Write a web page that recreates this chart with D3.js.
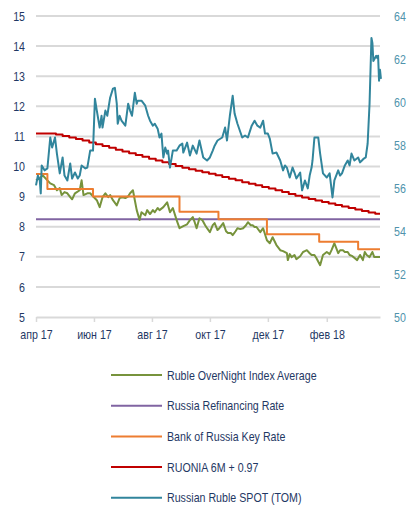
<!DOCTYPE html>
<html>
<head>
<meta charset="utf-8">
<script src="https://cdn.jsdelivr.net/npm/d3@7"></script>
<style>
  body { margin: 0; background: #fff; }
  text { font-family: "Liberation Sans Narrow", "Arial Narrow", "Liberation Sans", sans-serif; }
</style>
</head>
<body>
<div id="chart"></div>
<script>
// axis ticks
var xTickDates = ["2017-04-01", "2017-06-01", "2017-08-01", "2017-10-01", "2017-12-01", "2018-02-01"];
var xTickLabels = ["апр 17", "июн 17", "авг 17", "окт 17", "дек 17", "фев 18"];
var leftTicks = [5, 6, 7, 8, 9, 10, 11, 12, 13, 14, 15];
var rightTicks = [50, 52, 54, 56, 58, 60, 62, 64];

var seriesNames = ["Ruble OverNight Index Average", "Russia Refinancing Rate", "Bank of Russia Key Rate",
                   "RUONIA 6M + 0.97", "Russian Ruble SPOT (TOM)"];

// Ruble OverNight Index Average (left axis)
var ruonia = [
  ["2017-04-01", 9.54], ["2017-04-05", 9.61], ["2017-04-08", 9.71], ["2017-04-13", 9.54], ["2017-04-16", 9.44],
  ["2017-04-20", 9.38], ["2017-04-23", 9.21], ["2017-04-26", 9.28], ["2017-04-28", 9.05], ["2017-05-01", 9.15],
  ["2017-05-04", 9.11], ["2017-05-07", 8.98], ["2017-05-09", 8.91], ["2017-05-12", 9.11], ["2017-05-14", 9.15],
  ["2017-05-17", 9.21], ["2017-05-19", 9.54], ["2017-05-21", 9.05], ["2017-05-25", 9.11], ["2017-05-28", 9.11],
  ["2017-05-31", 9.01], ["2017-06-04", 8.88], ["2017-06-07", 8.65], ["2017-06-10", 8.98], ["2017-06-13", 9.11],
  ["2017-06-16", 8.98], ["2017-06-18", 9.05], ["2017-06-21", 8.88], ["2017-06-25", 8.71], ["2017-06-28", 8.95],
  ["2017-07-01", 8.98], ["2017-07-04", 8.95], ["2017-07-07", 9.01], ["2017-07-09", 9.11], ["2017-07-12", 9.21],
  ["2017-07-14", 8.88], ["2017-07-16", 8.55], ["2017-07-19", 8.22], ["2017-07-21", 8.48], ["2017-07-25", 8.38],
  ["2017-07-27", 8.55], ["2017-07-30", 8.42], ["2017-08-02", 8.55], ["2017-08-04", 8.48], ["2017-08-07", 8.62],
  ["2017-08-09", 8.55], ["2017-08-13", 8.65], ["2017-08-17", 8.81], ["2017-08-20", 8.48], ["2017-08-23", 8.62],
  ["2017-08-27", 8.22], ["2017-08-30", 7.95], ["2017-09-03", 8.02], ["2017-09-07", 8.08], ["2017-09-10", 8.22],
  ["2017-09-13", 8.32], ["2017-09-15", 8.15], ["2017-09-17", 7.95], ["2017-09-20", 8.28], ["2017-09-23", 8.22],
  ["2017-09-26", 8.05], ["2017-09-28", 7.95], ["2017-10-01", 7.82], ["2017-10-04", 8.05], ["2017-10-06", 8.12],
  ["2017-10-09", 7.89], ["2017-10-11", 7.95], ["2017-10-15", 8.12], ["2017-10-18", 7.85], ["2017-10-20", 7.79],
  ["2017-10-23", 7.79], ["2017-10-25", 7.72], ["2017-10-28", 7.85], ["2017-10-30", 7.95], ["2017-11-02", 7.92],
  ["2017-11-05", 7.95], ["2017-11-08", 8.05], ["2017-11-10", 8.15], ["2017-11-13", 8.05], ["2017-11-15", 8.05],
  ["2017-11-17", 7.99], ["2017-11-19", 7.99], ["2017-11-23", 7.82], ["2017-11-26", 7.95], ["2017-11-30", 7.55],
  ["2017-12-03", 7.45], ["2017-12-06", 7.65], ["2017-12-10", 7.39], ["2017-12-14", 7.22], ["2017-12-17", 7.19],
  ["2017-12-21", 7.12], ["2017-12-22", 6.89], ["2017-12-24", 7.09], ["2017-12-26", 6.99], ["2017-12-29", 7.06],
  ["2017-12-31", 6.92], ["2018-01-04", 7.02], ["2018-01-07", 7.16], ["2018-01-09", 7.19], ["2018-01-11", 7.22],
  ["2018-01-14", 7.12], ["2018-01-16", 7.06], ["2018-01-19", 7.06], ["2018-01-21", 6.96], ["2018-01-25", 6.72],
  ["2018-01-28", 7.06], ["2018-02-01", 7.16], ["2018-02-04", 7.09], ["2018-02-06", 7.22], ["2018-02-09", 7.45],
  ["2018-02-13", 7.12], ["2018-02-15", 7.22], ["2018-02-18", 7.22], ["2018-02-20", 7.16], ["2018-02-23", 7.16],
  ["2018-02-25", 7.06], ["2018-02-28", 7.02], ["2018-03-05", 6.89], ["2018-03-08", 7.06], ["2018-03-11", 6.89],
  ["2018-03-13", 7.16], ["2018-03-15", 7.06], ["2018-03-18", 6.99], ["2018-03-21", 7.16], ["2018-03-23", 6.99],
  ["2018-03-26", 6.99], ["2018-03-29", 6.99]
];

// Russia Refinancing Rate (left axis)
var refiRate = [["2017-04-01", 8.25], ["2018-03-29", 8.25]];

// Bank of Russia Key Rate (left axis), step changes
var keyRate = [
  ["2017-04-01", 9.75], ["2017-04-13", 9.25], ["2017-05-31", 9.0], ["2017-08-30", 8.5],
  ["2017-10-10", 8.25], ["2017-11-30", 7.75], ["2018-01-24", 7.5], ["2018-03-06", 7.25], ["2018-03-29", 7.25]
];

// RUONIA 6M + 0.97 (left axis), weekly from 2017-04-01
var ruonia6mStart = "2017-04-01";
var ruonia6m = [11.10, 11.10, 11.10, 11.06, 11.01, 10.96, 10.91, 10.86, 10.80, 10.74,
                10.68, 10.62, 10.56, 10.50, 10.44, 10.38, 10.32, 10.26, 10.20, 10.14,
                10.08, 10.02, 9.96, 9.91, 9.86, 9.81, 9.76, 9.71, 9.65, 9.59,
                9.54, 9.48, 9.43, 9.38, 9.32, 9.27, 9.21, 9.15, 9.09, 9.03,
                8.97, 8.92, 8.87, 8.82, 8.77, 8.72, 8.67, 8.62, 8.57, 8.52,
                8.47, 8.43];

// Russian Ruble SPOT (TOM) (right axis)
var rubSpot = [
  ["2017-04-01", 56.12], ["2017-04-03", 56.58], ["2017-04-05", 56.35], ["2017-04-06", 55.75], ["2017-04-07", 57.05],
  ["2017-04-10", 56.82], ["2017-04-13", 56.91], ["2017-04-16", 58.35], ["2017-04-18", 57.88], ["2017-04-21", 58.35],
  ["2017-04-23", 57.60], ["2017-04-26", 56.68], ["2017-04-29", 57.42], ["2017-05-01", 56.58], ["2017-05-04", 56.35],
  ["2017-05-07", 57.14], ["2017-05-09", 56.44], ["2017-05-12", 56.72], ["2017-05-15", 56.44], ["2017-05-17", 56.58],
  ["2017-05-19", 57.05], ["2017-05-23", 56.91], ["2017-05-25", 56.95], ["2017-05-28", 57.74], ["2017-05-31", 57.74],
  ["2017-06-02", 60.15], ["2017-06-04", 59.60], ["2017-06-07", 58.81], ["2017-06-09", 59.36], ["2017-06-10", 58.81],
  ["2017-06-13", 59.60], ["2017-06-15", 59.36], ["2017-06-18", 60.20], ["2017-06-21", 60.62], ["2017-06-23", 60.66],
  ["2017-06-25", 59.92], ["2017-06-26", 58.99], ["2017-06-28", 59.36], ["2017-06-30", 59.13], ["2017-07-04", 58.90],
  ["2017-07-07", 59.92], ["2017-07-09", 59.60], ["2017-07-11", 59.36], ["2017-07-14", 60.43], ["2017-07-16", 59.92],
  ["2017-07-17", 60.06], ["2017-07-21", 60.06], ["2017-07-25", 59.83], ["2017-07-28", 59.36], ["2017-07-30", 59.13],
  ["2017-08-02", 58.90], ["2017-08-04", 58.99], ["2017-08-07", 58.76], ["2017-08-09", 58.35], ["2017-08-11", 58.53],
  ["2017-08-13", 57.42], ["2017-08-15", 57.88], ["2017-08-17", 57.60], ["2017-08-18", 57.74], ["2017-08-20", 56.95],
  ["2017-08-23", 57.74], ["2017-08-27", 57.74], ["2017-08-30", 57.97], ["2017-09-02", 58.07], ["2017-09-03", 57.65],
  ["2017-09-07", 58.11], ["2017-09-10", 57.51], ["2017-09-13", 57.97], ["2017-09-17", 57.60], ["2017-09-20", 58.21],
  ["2017-09-24", 57.42], ["2017-09-28", 57.28], ["2017-10-01", 57.42], ["2017-10-04", 57.74], ["2017-10-06", 57.97],
  ["2017-10-09", 58.21], ["2017-10-14", 58.35], ["2017-10-17", 58.81], ["2017-10-19", 58.21], ["2017-10-22", 59.36],
  ["2017-10-25", 60.29], ["2017-10-27", 59.46], ["2017-10-30", 58.99], ["2017-11-04", 58.35], ["2017-11-07", 58.44],
  ["2017-11-10", 58.35], ["2017-11-14", 58.90], ["2017-11-17", 59.13], ["2017-11-20", 58.90], ["2017-11-23", 58.81],
  ["2017-11-26", 59.13], ["2017-11-28", 58.53], ["2017-12-01", 58.53], ["2017-12-03", 58.30], ["2017-12-06", 57.60],
  ["2017-12-10", 57.65], ["2017-12-14", 57.28], ["2017-12-17", 56.82], ["2017-12-19", 57.05], ["2017-12-21", 56.95],
  ["2017-12-24", 56.49], ["2017-12-27", 56.95], ["2017-12-29", 56.72], ["2017-12-31", 56.44], ["2018-01-04", 56.72],
  ["2018-01-06", 55.89], ["2018-01-09", 56.35], ["2018-01-12", 55.98], ["2018-01-14", 56.58], ["2018-01-16", 56.95],
  ["2018-01-17", 57.28], ["2018-01-19", 58.35], ["2018-01-23", 58.35], ["2018-01-25", 57.60], ["2018-01-28", 56.68],
  ["2018-02-01", 56.49], ["2018-02-04", 56.68], ["2018-02-07", 55.56], ["2018-02-09", 56.35], ["2018-02-13", 56.82],
  ["2018-02-15", 56.58], ["2018-02-17", 56.68], ["2018-02-20", 57.05], ["2018-02-23", 57.28], ["2018-02-25", 57.05],
  ["2018-02-27", 57.60], ["2018-03-02", 57.28], ["2018-03-06", 57.42], ["2018-03-08", 57.19], ["2018-03-10", 57.28],
  ["2018-03-12", 57.37], ["2018-03-14", 57.42], ["2018-03-16", 58.07], ["2018-03-18", 59.92], ["2018-03-19", 61.45],
  ["2018-03-20", 62.98], ["2018-03-21", 62.75], ["2018-03-22", 61.91], ["2018-03-25", 62.15], ["2018-03-26", 62.05],
  ["2018-03-27", 62.15], ["2018-03-28", 60.99], ["2018-03-29", 61.50], ["2018-03-30", 61.08]
];

var colors = ["#77933c", "#8064a2", "#ed7d31", "#c00000", "#31859c"];

var width = 418, height = 505;
var plot = {left: 36, right: 380, top: 16, bottom: 317};
var narrow = 0.82; // squeeze text horizontally, the original uses a narrow face
var parse = d3.timeParse("%Y-%m-%d");

var svg = d3.select("#chart")
  .append("svg")
    .attr("width", width)
    .attr("height", height);

svg.append("rect").attr("width", width).attr("height", height).attr("fill", "#fff");

var x = d3.scaleTime()
  .domain([parse("2017-04-01"), parse("2018-03-29")])
  .range([plot.left, plot.right]);

var yL = d3.scaleLinear().domain([5, 15]).range([plot.bottom, plot.top]);
var yR = d3.scaleLinear().domain([50, 64]).range([plot.bottom, plot.top]);

// gridlines
svg.append("g")
  .selectAll("line")
  .data(leftTicks.slice(1))
  .enter()
  .append("line")
    .attr("x1", plot.left)
    .attr("x2", plot.right)
    .attr("y1", function(d) { return yL(d); })
    .attr("y2", function(d) { return yL(d); })
    .attr("stroke", "#d9d9d9")
    .attr("stroke-width", 2);

// x axis
var xAxis = svg.append("g")
  .attr("transform", "translate(0," + plot.bottom + ")")
  .call(d3.axisBottom(x)
    .tickValues(xTickDates.map(parse))
    .tickFormat(function(d, i) { return xTickLabels[i]; })
    .tickSize(5)
    .tickSizeOuter(0)
    .tickPadding(8));
xAxis.select(".domain").attr("stroke", "#d9d9d9").attr("stroke-width", 2);
xAxis.selectAll(".tick line").attr("stroke", "#d9d9d9").attr("stroke-width", 1.5);
xAxis.selectAll("text")
  .attr("fill", "#1f3864")
  .attr("transform", "scale(" + narrow + ",1)")
  .style("font-size", "13px");

// left axis
var leftAxis = svg.append("g")
  .attr("transform", "translate(" + plot.left + ",0)")
  .call(d3.axisLeft(yL).tickValues(leftTicks).tickSize(0).tickPadding(11));
leftAxis.select(".domain").remove();
leftAxis.selectAll("text")
  .attr("fill", "#1f3864")
  .attr("x", -11 / narrow)
  .attr("transform", "scale(" + narrow + ",1)")
  .style("font-size", "13px");

// right axis
var rightAxis = svg.append("g")
  .attr("transform", "translate(" + plot.right + ",0)")
  .call(d3.axisRight(yR).tickValues(rightTicks).tickSize(0).tickPadding(13));
rightAxis.select(".domain").remove();
rightAxis.selectAll("text")
  .attr("fill", "#4f93ac")
  .attr("x", 14 / narrow)
  .attr("transform", "scale(" + narrow + ",1)")
  .style("font-size", "13px");

function toPoints(arr) {
  return arr.map(function(d) { return {date: parse(d[0]), value: d[1]}; });
}

var ruonia6mPoints = d3.timeDay.range(parse(ruonia6mStart), parse("2018-03-25"), 7)
  .map(function(d, i) { return {date: d, value: ruonia6m[i]}; });
ruonia6mPoints.push({date: x.domain()[1], value: ruonia6m[ruonia6m.length - 1]});

var lineL = d3.line().x(function(d) { return x(d.date); }).y(function(d) { return yL(d.value); });
var stepL = d3.line().curve(d3.curveStepAfter).x(function(d) { return x(d.date); }).y(function(d) { return yL(d.value); });
var lineR = d3.line().x(function(d) { return x(d.date); }).y(function(d) { return yR(d.value); });

var lines = [
  {data: toPoints(refiRate), gen: lineL, color: colors[1]},
  {data: toPoints(ruonia), gen: lineL, color: colors[0]},
  {data: toPoints(keyRate), gen: stepL, color: colors[2]},
  {data: ruonia6mPoints, gen: stepL, color: colors[3]},
  {data: toPoints(rubSpot), gen: lineR, color: colors[4]}
];

svg.append("g")
  .selectAll("path")
  .data(lines)
  .enter()
  .append("path")
    .attr("d", function(d) { return d.gen(d.data); })
    .attr("fill", "none")
    .attr("stroke", function(d) { return d.color; })
    .attr("stroke-width", 2)
    .attr("stroke-linejoin", "round");

// legend
var legend = svg.append("g")
  .selectAll("g")
  .data(seriesNames)
  .enter()
  .append("g")
    .attr("transform", function(d, i) { return "translate(0," + (375 + i * 30.7) + ")"; });

legend.append("line")
  .attr("x1", 111).attr("x2", 162)
  .attr("stroke", function(d, i) { return colors[i]; })
  .attr("stroke-width", 2);

legend.append("text")
  .attr("transform", "translate(167,0) scale(" + narrow + ",1)")
  .attr("dy", "0.35em")
  .attr("fill", "#1f3864")
  .style("font-size", "13px")
  .text(function(d) { return d; });
</script>
</body>
</html>
